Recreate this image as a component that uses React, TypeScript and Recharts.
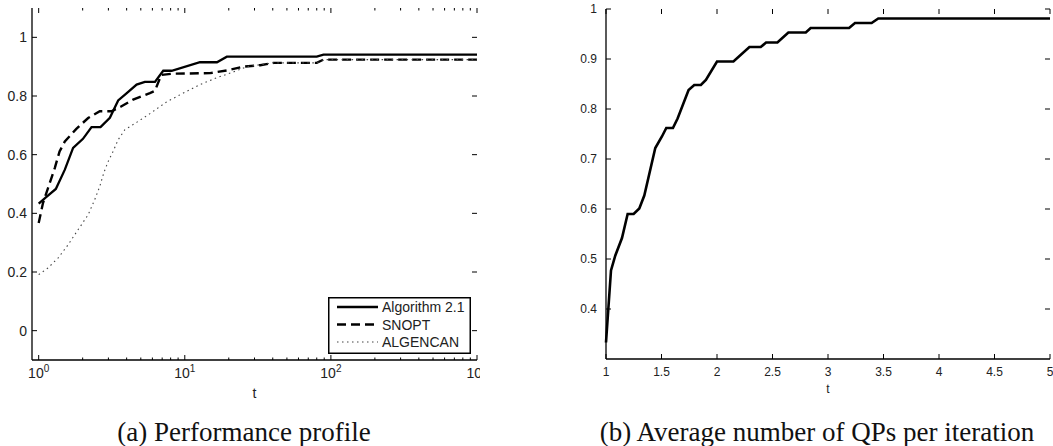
import React from "react";
import { Legend, Line, LineChart, XAxis, YAxis } from "recharts";

// (a) performance profile, t on a log axis
const ALG_T = [1, 1.13, 1.31, 1.51, 1.72, 2.01, 2.3, 2.65, 3.07, 3.5, 3.99, 4.68, 5.33, 6.25, 7.12, 8.13, 12.7, 16.6, 19.4, 80, 89, 1000];
const ALG_P = [0.433, 0.456, 0.483, 0.549, 0.623, 0.654, 0.694, 0.694, 0.726, 0.785, 0.809, 0.839, 0.848, 0.848, 0.886, 0.886, 0.915, 0.915, 0.934, 0.934, 0.941, 0.941];

const SNOPT_T = [1, 1.07, 1.16, 1.29, 1.39, 1.51, 1.81, 2.18, 2.62, 3.15, 3.69, 4.43, 5.77, 6.25, 6.9, 8.3, 14.9, 19.4, 25.2, 32.8, 40.5, 80, 89, 1000];
const SNOPT_P = [0.367, 0.435, 0.487, 0.555, 0.611, 0.645, 0.688, 0.725, 0.748, 0.748, 0.765, 0.788, 0.81, 0.818, 0.872, 0.876, 0.878, 0.887, 0.9, 0.905, 0.913, 0.913, 0.924, 0.924];

const ALGENCAN_T = [1, 1.16, 1.36, 1.59, 1.86, 2.18, 2.42, 2.62, 2.79, 2.99, 3.23, 3.5, 3.89, 4.68, 5.77, 7.51, 9.77, 12.7, 16.5, 21.5, 26.6, 40, 80, 89, 1000];
const ALGENCAN_P = [0.191, 0.214, 0.248, 0.293, 0.344, 0.395, 0.447, 0.492, 0.538, 0.577, 0.611, 0.651, 0.685, 0.71, 0.74, 0.78, 0.81, 0.839, 0.862, 0.882, 0.9, 0.913, 0.913, 0.924, 0.924];

const LOG_MAJOR = [1, 10, 100, 1000];
const LOG_TICKS = [1, 2, 3, 4, 5, 6, 7, 8, 9, 10, 20, 30, 40, 50, 60, 70, 80, 90, 100, 200, 300, 400, 500, 600, 700, 800, 900, 1000];
const PROFILE_Y_TICKS = [0, 0.2, 0.4, 0.6, 0.8, 1];

// (b) average number of QPs per iteration
const QP_T = [1, 1.045, 1.084, 1.144, 1.195, 1.249, 1.3, 1.345, 1.444, 1.504, 1.543, 1.603, 1.645, 1.744, 1.795, 1.855, 1.9, 2.0, 2.148, 2.292, 2.394, 2.442, 2.544, 2.643, 2.8, 2.844, 3.19, 3.243, 3.393, 3.453, 5];
const QP_P = [0.333, 0.477, 0.507, 0.542, 0.59, 0.59, 0.601, 0.627, 0.722, 0.745, 0.762, 0.762, 0.781, 0.838, 0.848, 0.848, 0.858, 0.895, 0.895, 0.924, 0.924, 0.933, 0.933, 0.953, 0.953, 0.962, 0.962, 0.972, 0.972, 0.981, 0.981];
const QP_X_TICKS = [1, 1.5, 2, 2.5, 3, 3.5, 4, 4.5, 5];
const QP_Y_TICKS = [0.4, 0.5, 0.6, 0.7, 0.8, 0.9, 1];

const SANS = "'Liberation Sans', Arial, sans-serif";
const SERIF = "'Liberation Serif', 'Times New Roman', serif";

const zip = (ts: number[], ps: number[]) => ts.map((t, i) => ({ t, p: ps[i] }));

const SERIES = [
  { name: "Algorithm 2.1", data: zip(ALG_T, ALG_P), color: "#000", width: 2.3, dash: undefined },
  { name: "SNOPT", data: zip(SNOPT_T, SNOPT_P), color: "#000", width: 2.4, dash: "9 5" },
  { name: "ALGENCAN", data: zip(ALGENCAN_T, ALGENCAN_P), color: "#444", width: 1.1, dash: "1.5 3.5" },
];

// plot boxes in page pixels (charts are placed at page origin)
const L = { left: 32, right: 477, top: 8, bottom: 360 };
const R = { left: 66, right: 510, top: 9, bottom: 359 }; // relative to right chart
const AXIS = { stroke: "#000", strokeWidth: 1.3 };

function LogTick({ x, y, payload }: any) {
  const v = payload.value;
  const major = LOG_MAJOR.includes(v);
  const len = major ? 5 : 2.5;
  return (
    <g>
      <line x1={x} x2={x} y1={L.bottom} y2={L.bottom - len} stroke="#000" />
      <line x1={x} x2={x} y1={L.top} y2={L.top + len} stroke="#000" />
      {major && (
        <text x={x} y={y + 6} textAnchor="middle" fontSize={14} fill="#222" fontFamily={SANS}>
          10
          <tspan dy={-6} fontSize={10}>
            {Math.round(Math.log10(v))}
          </tspan>
        </text>
      )}
    </g>
  );
}

function ProfileYTick({ x, y, payload }: any) {
  return (
    <g>
      <line x1={L.left} x2={L.left + 5} y1={y} y2={y} stroke="#000" />
      <line x1={L.right} x2={L.right - 5} y1={y} y2={y} stroke="#000" />
      <text x={x} y={y + 5} textAnchor="end" fontSize={14} fill="#222" fontFamily={SANS}>
        {payload.value}
      </text>
    </g>
  );
}

function QpXTick({ x, y, payload }: any) {
  return (
    <g>
      <line x1={x} x2={x} y1={R.bottom} y2={R.bottom - 5} stroke="#000" />
      <line x1={x} x2={x} y1={R.top} y2={R.top + 5} stroke="#000" />
      <text x={x} y={y + 5} textAnchor="middle" fontSize={12} fill="#222" fontFamily={SANS}>
        {payload.value}
      </text>
    </g>
  );
}

function QpYTick({ x, y, payload }: any) {
  return (
    <g>
      <line x1={R.left} x2={R.left + 5} y1={y} y2={y} stroke="#000" />
      <line x1={R.right} x2={R.right - 5} y1={y} y2={y} stroke="#000" />
      <text x={x} y={y + 4} textAnchor="end" fontSize={12} fill="#222" fontFamily={SANS}>
        {payload.value}
      </text>
    </g>
  );
}

const axisTitle = (size: number, drop: number) => (props: any) => {
  const vb = props.viewBox;
  return (
    <text x={vb.x + vb.width / 2} y={vb.y + drop} textAnchor="middle" fontSize={size} fill="#222" fontFamily={SANS}>
      t
    </text>
  );
};

function ProfileLegend() {
  return (
    <svg width={143} height={57} style={{ display: "block" }}>
      <rect x={0.75} y={0.75} width={141.5} height={55.5} fill="#fff" stroke="#000" strokeWidth={1.5} />
      {SERIES.map((s, i) => {
        const cy = 10 + i * 17.5;
        return (
          <g key={s.name}>
            <line x1={9} x2={50} y1={cy} y2={cy} stroke={s.color} strokeWidth={s.width} strokeDasharray={s.dash} />
            <text x={54} y={cy + 5} fontSize={14} fill="#222" fontFamily={SANS}>
              {s.name}
            </text>
          </g>
        );
      })}
    </svg>
  );
}

export default function App() {
  return (
    <div style={{ position: "absolute", left: 0, top: 0, width: 1053, height: 446, background: "#fff", overflow: "hidden" }}>
      <div style={{ position: "absolute", left: 0, top: 0 }}>
        <LineChart width={480} height={400} margin={{ top: L.top, right: 3, bottom: 0, left: 0 }}>
          <XAxis
            dataKey="t"
            type="number"
            scale="log"
            domain={[0.9, 1000]}
            allowDataOverflow
            ticks={LOG_TICKS}
            interval={0}
            tick={LogTick}
            tickLine={false}
            tickSize={0}
            tickMargin={12}
            height={40}
            axisLine={AXIS}
            label={axisTitle(14, 38)}
          />
          <XAxis xAxisId="top" orientation="top" type="number" domain={[0, 1]} height={0} tick={false} tickLine={false} axisLine={AXIS} />
          <YAxis
            type="number"
            domain={[-0.1, 1.1]}
            ticks={PROFILE_Y_TICKS}
            interval={0}
            tick={ProfileYTick}
            tickLine={false}
            tickSize={0}
            tickMargin={5}
            width={L.left}
            axisLine={AXIS}
          />
          <YAxis yAxisId="right" orientation="right" domain={[0, 1]} width={0} tick={false} tickLine={false} axisLine={AXIS} />
          {SERIES.map((s) => (
            <Line
              key={s.name}
              data={s.data}
              dataKey="p"
              name={s.name}
              type="linear"
              stroke={s.color}
              strokeWidth={s.width}
              strokeDasharray={s.dash}
              dot={false}
              isAnimationActive={false}
            />
          ))}
          <Legend
            layout="vertical"
            align="center"
            verticalAlign="middle"
            content={ProfileLegend}
            wrapperStyle={{ position: "absolute", left: 328, top: 297, width: 143, height: 57 }}
          />
        </LineChart>
      </div>

      <div style={{ position: "absolute", left: 540, top: 0 }}>
        <LineChart width={513} height={400} margin={{ top: R.top, right: 3, bottom: 0, left: 0 }}>
          <XAxis
            dataKey="t"
            type="number"
            domain={[1, 5]}
            ticks={QP_X_TICKS}
            interval={0}
            tick={QpXTick}
            tickLine={false}
            tickSize={0}
            tickMargin={12}
            height={41}
            axisLine={AXIS}
            label={axisTitle(12, 34)}
          />
          <XAxis xAxisId="top" orientation="top" type="number" domain={[0, 1]} height={0} tick={false} tickLine={false} axisLine={AXIS} />
          <YAxis
            type="number"
            domain={[0.3, 1]}
            ticks={QP_Y_TICKS}
            interval={0}
            tick={QpYTick}
            tickLine={false}
            tickSize={0}
            tickMargin={9}
            width={R.left}
            axisLine={AXIS}
          />
          <YAxis yAxisId="right" orientation="right" domain={[0, 1]} width={0} tick={false} tickLine={false} axisLine={AXIS} />
          <Line
            data={zip(QP_T, QP_P)}
            dataKey="p"
            type="linear"
            stroke="#000"
            strokeWidth={2.6}
            dot={false}
            isAnimationActive={false}
          />
        </LineChart>
      </div>

      <svg width={1053} height={446} style={{ position: "absolute", left: 0, top: 0, pointerEvents: "none" }}>
        <text x={244} y={441} textAnchor="middle" fontSize={27} fill="#111" fontFamily={SERIF}>
          (a) Performance profile
        </text>
        <text x={817} y={441} textAnchor="middle" fontSize={27} fill="#111" fontFamily={SERIF}>
          (b) Average number of QPs per iteration
        </text>
      </svg>
    </div>
  );
}
